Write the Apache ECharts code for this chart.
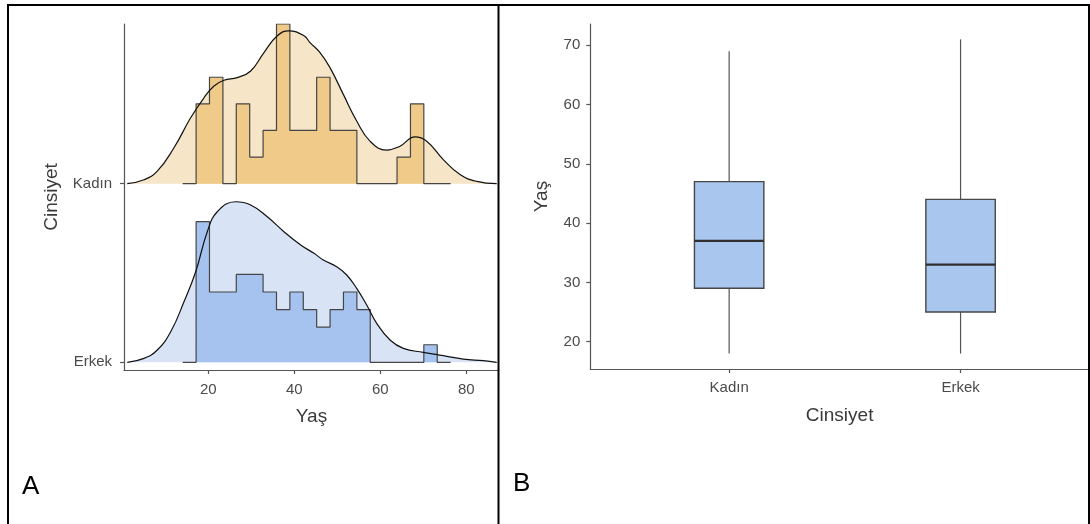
<!DOCTYPE html>
<html><head><meta charset="utf-8">
<script src="https://cdn.jsdelivr.net/npm/echarts@6/dist/echarts.min.js"></script>
<style>html,body{margin:0;padding:0;background:#fff}#c{width:1090px;height:524px}</style>
</head><body><div id="c"></div>
<script>
// ---------- Panel A data (ridgeline: histogram + density) ----------
const ridgeGroups = ['Erkek', 'Kadın'];           // baselines at 1 and 2
const binEdges = [14.05, 17.17, 20.28, 23.40, 26.51, 29.63, 32.74, 35.86, 38.97, 42.09, 45.20,
                  48.32, 51.43, 54.55, 57.66, 60.78, 63.89, 67.01, 70.12, 73.24, 76.35];
const kadinCounts = [0, 3, 4, 0, 3, 1, 2, 6, 2, 2, 4, 2, 2, 0, 0, 0, 1, 3, 0, 0];
const erkekCounts = [0, 8, 4, 4, 5, 5, 4, 3, 4, 3, 2, 3, 4, 3, 0, 0, 0, 0, 1, 0];
const ageTicks = [20, 40, 60, 80];

const kadinDensX = [1.16, 5.05, 8.14, 12.02, 15.9, 19.0, 21.33, 23.65, 26.74, 29.86, 32.95, 36.05, 38.77,
                    42.26, 43.65, 45.98, 48.3, 51.4, 54.51, 57.6, 61.49, 64.58, 68.07, 70.79, 74.65, 78.53, 82.42, 87.07];
const kadinDensH = [0, 0.022, 0.070, 0.201, 0.369, 0.481, 0.547, 0.579, 0.594, 0.631, 0.734, 0.828, 0.856,
                    0.828, 0.790, 0.734, 0.650, 0.500, 0.351, 0.238, 0.188, 0.210, 0.262, 0.238, 0.135, 0.051, 0.013, 0];
const erkekDensX = [1.16, 5.05, 8.14, 11.26, 14.35, 17.07, 19.77, 22.09, 26.37, 29.86, 33.72, 37.6, 41.49,
                    44.58, 46.74, 49.86, 52.19, 54.51, 56.84, 59.16, 62.26, 65.35, 70.0, 74.65, 79.3, 83.95, 87.07];
const erkekDensH = [0, 0.022, 0.069, 0.171, 0.339, 0.507, 0.731, 0.843, 0.899, 0.881, 0.815, 0.731, 0.657,
                    0.610, 0.573, 0.535, 0.489, 0.414, 0.321, 0.218, 0.125, 0.078, 0.056, 0.037, 0.018, 0.009, 0];

// ---------- Panel B data (boxplot) ----------
const boxCategories = ['Kadın', 'Erkek'];
const boxLow    = [18, 18];
const boxQ1     = [29, 25];
const boxMedian = [37, 33];
const boxQ3     = [47, 44];
const boxHigh   = [69, 71];
const boxTicks  = [20, 30, 40, 50, 60, 70];

// ---------- build ----------
const FONT = '"Liberation Sans", Arial, Helvetica, sans-serif';
const ridgeScale = 0.894;
const nK = kadinCounts.reduce((a, b) => a + b, 0);
const nE = erkekCounts.reduce((a, b) => a + b, 0);
const maxDens = Math.max(...kadinCounts.map(c => c / nK), ...erkekCounts.map(c => c / nE));
function histData(counts, n, base) {
  return binEdges.map((e, k) => [e, base + (k < counts.length ? counts[k] / n / maxDens * ridgeScale : 0)]);
}
function densData(xs, hs, base) { return xs.map((x, i) => [x, base + hs[i]]); }

const axisLineStyle = { color: '#555', width: 1.2 };
const tickLabel = { color: '#4a4a4a', fontSize: 15, fontFamily: FONT };
const titleStyle = { color: '#3a3a3a', fontSize: 19, fontFamily: FONT };

const chart = echarts.init(document.getElementById('c'), null, { renderer: 'canvas' });
const densLine = { color: '#111', width: 1.2 };
const SMOOTH = 0.45;

chart.setOption({
  animation: false,
  backgroundColor: '#fff',
  grid: [
    { left: 124, top: 24, width: 375, height: 346 },
    { left: 590.3, top: 24, width: 498.7, height: 345 }
  ],
  xAxis: [
    { gridIndex: 0, type: 'value', min: 0.4, max: 87.6,
      axisLine: { show: true, lineStyle: axisLineStyle, onZero: false },
      axisTick: { show: true, length: 4, lineStyle: axisLineStyle, customValues: ageTicks },
      axisLabel: Object.assign({ margin: 12, customValues: ageTicks }, tickLabel),
      splitLine: { show: false },
      name: 'Yaş', nameLocation: 'middle', nameGap: 37, nameTextStyle: titleStyle },
    { gridIndex: 1, type: 'value', min: 0.4, max: 2.555,
      axisLine: { show: true, lineStyle: axisLineStyle, onZero: false },
      axisTick: { show: true, length: 4, lineStyle: axisLineStyle, customValues: [1, 2] },
      axisLabel: Object.assign({ margin: 11, customValues: [1, 2],
        formatter: v => boxCategories[Math.round(v) - 1] }, tickLabel),
      splitLine: { show: false },
      name: 'Cinsiyet', nameLocation: 'middle', nameGap: 37, nameTextStyle: titleStyle }
  ],
  yAxis: [
    { gridIndex: 0, type: 'value', min: 0.957, max: 2.894,
      axisLine: { show: true, lineStyle: axisLineStyle, onZero: false },
      axisTick: { show: true, length: 4, lineStyle: axisLineStyle, customValues: [1, 2] },
      axisLabel: Object.assign({ margin: 12, customValues: [1, 2],
        formatter: v => ridgeGroups[Math.round(v) - 1] }, tickLabel),
      splitLine: { show: false },
      name: 'Cinsiyet', nameLocation: 'middle', nameGap: 63, nameTextStyle: titleStyle },
    { gridIndex: 1, type: 'value', min: 15.39, max: 73.59,
      axisLine: { show: true, lineStyle: axisLineStyle, onZero: false },
      axisTick: { show: true, length: 4, lineStyle: axisLineStyle, customValues: boxTicks },
      axisLabel: Object.assign({ margin: 10, customValues: boxTicks }, tickLabel),
      splitLine: { show: false },
      name: 'Yaş', nameLocation: 'middle', nameGap: 39, nameTextStyle: titleStyle }
  ],
  series: [
    // density fills
    { type: 'line', xAxisIndex: 0, yAxisIndex: 0, data: densData(kadinDensX, kadinDensH, 2), smooth: SMOOTH,
      symbol: 'none', lineStyle: { width: 0 },
      areaStyle: { origin: 2, color: '#f6e5c7', opacity: 1 }, z: 1, silent: true },
    { type: 'line', xAxisIndex: 0, yAxisIndex: 0, data: densData(erkekDensX, erkekDensH, 1), smooth: SMOOTH,
      symbol: 'none', lineStyle: { width: 0 },
      areaStyle: { origin: 1, color: '#d8e4f6', opacity: 1 }, z: 1, silent: true },
    // histograms
    { type: 'line', xAxisIndex: 0, yAxisIndex: 0, data: histData(kadinCounts, nK, 2), step: 'end',
      symbol: 'none', lineStyle: { color: '#454545', width: 1.2 },
      areaStyle: { origin: 2, color: '#efca88', opacity: 1 }, z: 2, silent: true },
    { type: 'line', xAxisIndex: 0, yAxisIndex: 0, data: histData(erkekCounts, nE, 1), step: 'end',
      symbol: 'none', lineStyle: { color: '#454545', width: 1.2 },
      areaStyle: { origin: 1, color: '#a5c3ee', opacity: 1 }, z: 2, silent: true },
    // density lines
    { type: 'line', xAxisIndex: 0, yAxisIndex: 0, data: densData(kadinDensX, kadinDensH, 2), smooth: SMOOTH,
      symbol: 'none', lineStyle: densLine, z: 3, silent: true },
    { type: 'line', xAxisIndex: 0, yAxisIndex: 0, data: densData(erkekDensX, erkekDensH, 1), smooth: SMOOTH,
      symbol: 'none', lineStyle: densLine, z: 3, silent: true },
    // boxplot
    { type: 'custom', xAxisIndex: 1, yAxisIndex: 1,
      data: boxCategories.map((c, i) => [i + 1, boxLow[i], boxQ1[i], boxMedian[i], boxQ3[i], boxHigh[i]]),
      encode: { x: 0, y: [1, 2, 3, 4, 5] },
      renderItem: function (params, api) {
        const x = api.value(0);
        const pLo = api.coord([x, api.value(1)]);
        const pQ1 = api.coord([x, api.value(2)]);
        const pMd = api.coord([x, api.value(3)]);
        const pQ3 = api.coord([x, api.value(4)]);
        const pHi = api.coord([x, api.value(5)]);
        const w = api.size([0.3, 0])[0];
        return { type: 'group', children: [
          { type: 'line', shape: { x1: pLo[0], y1: pLo[1], x2: pQ1[0], y2: pQ1[1] }, style: { stroke: '#555', lineWidth: 1.2 } },
          { type: 'line', shape: { x1: pQ3[0], y1: pQ3[1], x2: pHi[0], y2: pHi[1] }, style: { stroke: '#555', lineWidth: 1.2 } },
          { type: 'rect', shape: { x: pQ3[0] - w / 2, y: pQ3[1], width: w, height: pQ1[1] - pQ3[1] },
            style: { fill: '#a9c6ee', stroke: '#474747', lineWidth: 1.4 } },
          { type: 'line', shape: { x1: pMd[0] - w / 2, y1: pMd[1], x2: pMd[0] + w / 2, y2: pMd[1] },
            style: { stroke: '#2f2f2f', lineWidth: 2.4 } }
        ] };
      }, silent: true }
  ],
  graphic: [
    { type: 'line', shape: { x1: 7, y1: 5, x2: 1090, y2: 5 }, style: { stroke: '#000', lineWidth: 2 }, z: 100 },
    { type: 'line', shape: { x1: 8, y1: 4, x2: 8, y2: 524 }, style: { stroke: '#000', lineWidth: 2 }, z: 100 },
    { type: 'line', shape: { x1: 498.5, y1: 4, x2: 498.5, y2: 524 }, style: { stroke: '#000', lineWidth: 2 }, z: 100 },
    { type: 'line', shape: { x1: 1089, y1: 4, x2: 1089, y2: 524 }, style: { stroke: '#000', lineWidth: 2 }, z: 100 },
    { type: 'text', x: 22, y: 487, style: { text: 'A', font: '26px ' + FONT, fill: '#000', verticalAlign: 'middle' }, z: 100 },
    { type: 'text', x: 513, y: 484, style: { text: 'B', font: '26px ' + FONT, fill: '#000', verticalAlign: 'middle' }, z: 100 }
  ]
});
</script>
</body></html>
